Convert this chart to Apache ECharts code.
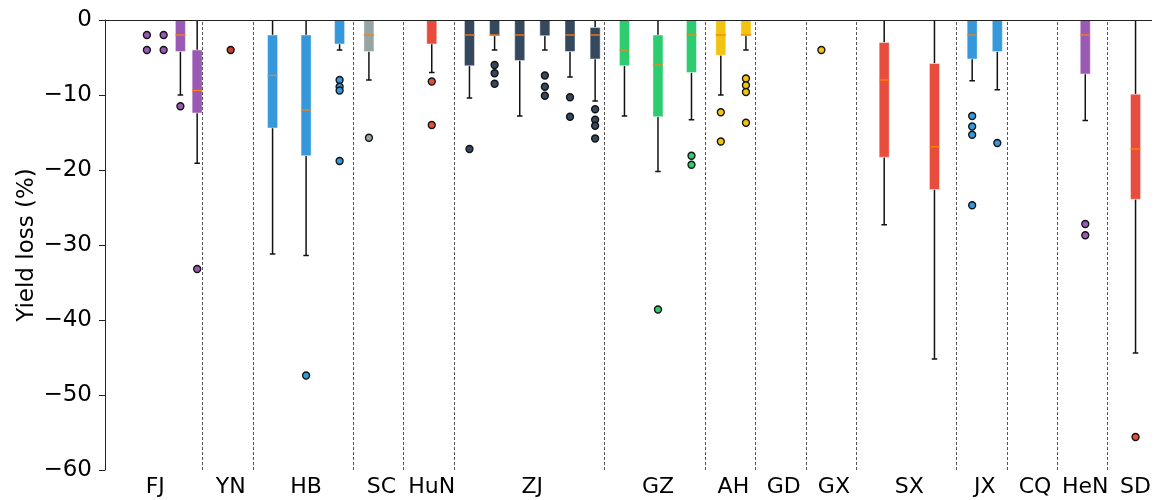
<!DOCTYPE html>
<html><head><meta charset="utf-8">
<script src="https://cdn.jsdelivr.net/npm/echarts@6/dist/echarts.min.js"></script>
<style>html,body{margin:0;padding:0;background:#fff}#chart{width:1154px;height:500px}</style>
</head><body><div id="chart"></div>
<script>
// ---------- data ----------
const groups = ['FJ','YN','HB','SC','HuN','ZJ','GZ','AH','GD','GX','SX','JX','CQ','HeN','SD'];
const groupSpan = [4,2,4,2,2,6,4,2,2,2,4,2,2,2,2];
const groupBoxCount = [6,1,3,2,1,6,3,2,0,2,2,2,0,1,1];
// [lower whisker, Q1, median, Q3, upper whisker] per box, in group order
const boxStats = [
  [0,0,0,0,0],[0,0,0,0,0],[0,0,0,0,0],[0,0,0,0,0],[-10.0,-4.2,-2.0,0,0],[-19.1,-12.4,-9.4,-4.0,0],
  [0,0,0,0,0],
  [-31.2,-14.4,-7.4,-2.0,0],[-31.4,-18.1,-12.0,-2.0,0],[-4.0,-3.2,0,0,0],
  [-8.0,-4.2,-2.0,0,0],[0,0,0,0,0],
  [-7.0,-3.2,0,0,0],
  [-10.4,-6.1,-2.0,0,0],[-4.0,-2.1,-2.0,0,0],[-12.8,-5.4,-2.0,0,0],[-4.0,-2.1,0,0,0],[-7.6,-4.2,-2.0,0,0],[-10.8,-5.2,-2.0,-1.0,0],
  [-12.8,-6.1,-4.0,0,0],[-20.2,-12.9,-6.0,-2.0,0],[-13.3,-7.0,-2.0,0,0],
  [-10.0,-4.7,-2.0,0,0],[-4.0,-2.1,-2.0,0,0],
  [0,0,0,0,0],[0,0,0,0,0],
  [-27.3,-18.3,-8.0,-3.0,0],[-45.2,-22.6,-16.9,-5.8,0],
  [-8.1,-5.2,-2.0,0,0],[-9.3,-4.2,0,0,0],
  [-13.4,-7.2,-2.0,0,0],
  [-44.4,-23.9,-17.2,-9.9,0]
];
const boxOutliers = [
  [],[],[-2,-4],[-2,-4],[-11.5],[-33.2],
  [-4.0],
  [],[-47.4],[-8.0,-8.9,-9.4,-18.8],
  [-15.7],[],
  [-8.2,-14.0],
  [-17.2],[-6.0,-7.1,-8.5],[],[-7.4,-8.9,-10.1],[-10.3,-12.9],[-11.9,-13.3,-14.1,-15.8],
  [],[-38.6],[-18.1,-19.3],
  [-12.3,-16.2],[-7.8,-8.7,-9.6,-13.7],
  [-4.0],[],
  [],[],
  [-12.8,-14.2,-15.3,-24.7],[-16.4],
  [-27.2,-28.7],
  [-55.6]
];
const yTicks = [-60,-50,-40,-30,-20,-10,0];

// ---------- styles ----------
const groupColors = ['#9b59b6','#cb3b2c','#3498db','#95a5a6','#e74c3c','#34495e','#2ecc71','#f1c40f','#95a5a6','#f1c40f','#e74c3c','#3498db','#95a5a6','#9b59b6','#e74c3c'];
const MEDIAN_COLOR = '#ff7f0e';
const BOX_W = 0.4, CAP_W = 0.22;
const X_MIN = 4;
const X_VIEW_MAX = 45.64;   // the plot runs past the right edge of the picture
const SEP_SHIFT = -0.12;

// ---------- layout from structure ----------
const boxData = [], outlierData = [], sepValues = [], labelValues = [], labelMap = {};
let cursor = X_MIN, bi = 0;
groups.forEach((g, gi) => {
  const span = groupSpan[gi], n = groupBoxCount[gi];
  const center = cursor + span / 2;
  labelValues.push(center); labelMap[center.toFixed(3)] = g;
  for (let j = 0; j < n; j++) {
    const pos = cursor + (j + 0.5) * span / n;
    const s = boxStats[bi];
    boxData.push([pos, s[0], s[1], s[2], s[3], s[4], gi]);
    boxOutliers[bi].forEach(v => outlierData.push({value: [pos, v], itemStyle: {color: groupColors[gi]}}));
    bi++;
  }
  cursor += span;
  if (gi < groups.length - 1) sepValues.push(cursor + SEP_SHIFT);
});

const chart = echarts.init(document.getElementById('chart'));
chart.setOption({
  animation: false,
  backgroundColor: '#fff',
  grid: {left: 105, top: 20, right: 0, height: 450, show: false},
  xAxis: {
    type: 'value', min: X_MIN, max: X_VIEW_MAX,
    axisLine: {show: true, lineStyle: {color: '#222', width: 1}},
    axisTick: {show: false},
    splitLine: {show: false},
    axisLabel: {
      customValues: labelValues,
      formatter: v => labelMap[Number(v).toFixed(3)] || '',
      fontFamily: 'DejaVu Sans', fontSize: 22, color: '#000', margin: 6
    }
  },
  yAxis: {
    type: 'value', min: -60, max: 0, interval: 10,
    name: 'Yield loss (%)', nameLocation: 'middle', nameRotate: 90, nameGap: 66,
    nameMoveOverlap: false,
    nameTextStyle: {fontFamily: 'DejaVu Sans', fontSize: 23, color: '#000'},
    axisLine: {show: true, lineStyle: {color: '#222', width: 1}},
    axisTick: {show: true, length: 6, lineStyle: {color: '#222'}},
    splitLine: {show: false},
    axisLabel: {
      fontFamily: 'DejaVu Sans', fontSize: 23, color: '#000', margin: 13,
      formatter: v => (yTicks.indexOf(v) >= 0 ? (v < 0 ? '\u2212' + Math.abs(v) : String(v)) : '')
    }
  },
  series: [
    {
      type: 'custom', z: 3, silent: true,
      data: boxData,
      encode: {x: 0, y: [1, 5]},
      renderItem: function (params, api) {
        const x = api.value(0), lo = api.value(1), q1 = api.value(2), med = api.value(3), q3 = api.value(4), hi = api.value(5);
        const color = groupColors[api.value(6)];
        const ch = [];
        const ws = {stroke: '#111', lineWidth: 1.5};
        const P = (xx, yy) => api.coord([xx, yy]);
        if (q1 !== lo) {
          const a = P(x, q1), b = P(x, lo);
          ch.push({type: 'line', shape: {x1: a[0], y1: a[1], x2: b[0], y2: b[1]}, style: ws});
          const c1 = P(x - CAP_W / 2, lo), c2 = P(x + CAP_W / 2, lo);
          ch.push({type: 'line', shape: {x1: c1[0], y1: c1[1], x2: c2[0], y2: c2[1]}, style: ws});
        }
        if (hi !== q3) {
          const a = P(x, q3), b = P(x, hi);
          ch.push({type: 'line', shape: {x1: a[0], y1: a[1], x2: b[0], y2: b[1]}, style: ws});
        }
        if (q3 !== q1) {
          const tl = P(x - BOX_W / 2, q3), br = P(x + BOX_W / 2, q1);
          ch.push({type: 'rect', shape: {x: tl[0], y: tl[1], width: br[0] - tl[0], height: br[1] - tl[1]},
                   style: {fill: color, stroke: 'rgba(255,255,255,0.45)', lineWidth: 1}});
        }
        if (med !== 0) {
          const m1 = P(x - BOX_W / 2, med), m2 = P(x + BOX_W / 2, med);
          ch.push({type: 'line', shape: {x1: m1[0], y1: m1[1], x2: m2[0], y2: m2[1]}, style: {stroke: MEDIAN_COLOR, lineWidth: 1.3}});
        }
        return {type: 'group', children: ch};
      },
      markLine: {
        silent: true, symbol: 'none', label: {show: false},
        lineStyle: {color: '#444', width: 0.9, type: [3, 2]},
        data: sepValues.map(v => ({xAxis: v}))
      }
    },
    {
      type: 'scatter', z: 5, silent: true,
      symbol: 'circle', symbolSize: 7,
      itemStyle: {borderColor: '#111', borderWidth: 1.3, opacity: 1},
      data: outlierData,
      markLine: {
        silent: true, symbol: 'none', label: {show: false},
        lineStyle: {color: '#222', width: 1, type: 'solid'},
        data: [{yAxis: 0}]
      }
    }
  ]
});
</script></body></html>
